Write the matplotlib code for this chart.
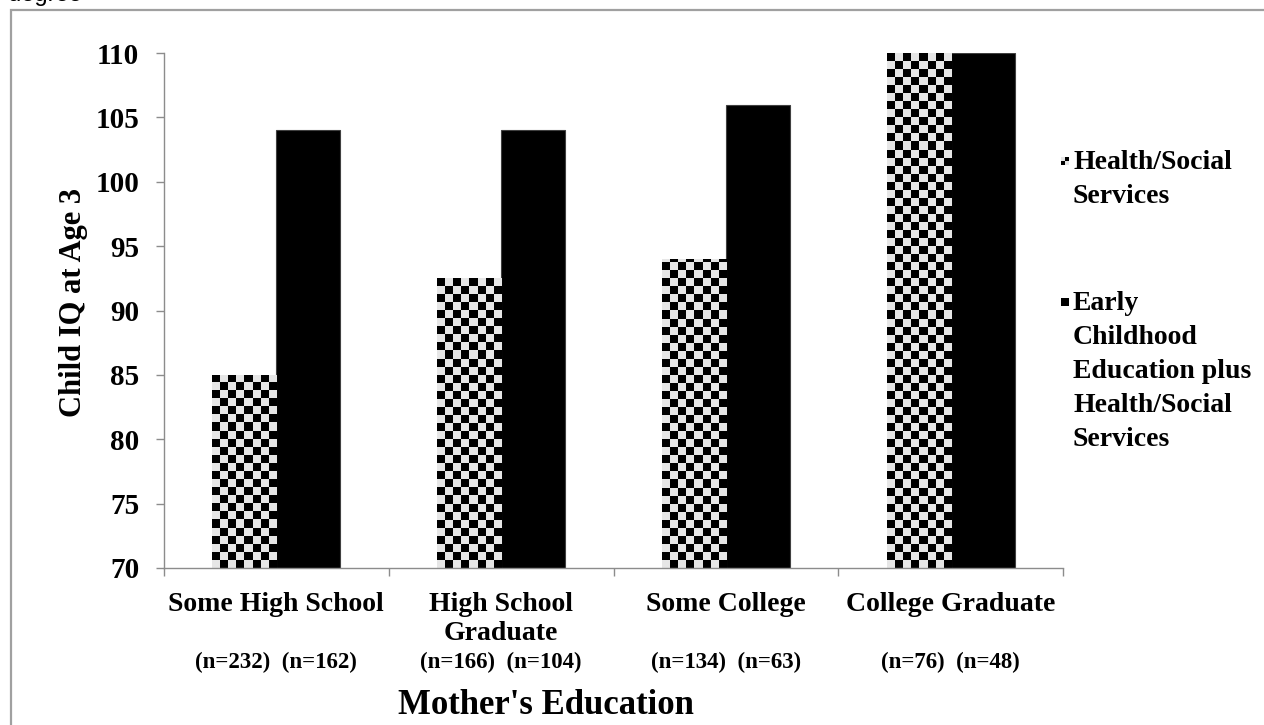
import numpy as np
import matplotlib
matplotlib.use("Agg")
import matplotlib.pyplot as plt
from matplotlib.patches import Rectangle
from matplotlib.transforms import blended_transform_factory

# ---- data ----
categories = ["Some High School", "High School\nGraduate", "Some College", "College Graduate"]
health_social = [85, 92.5, 94, 110]
early_childhood = [104, 104, 106, 110]
n_labels = ["(n=232)  (n=162)", "(n=166)  (n=104)", "(n=134)  (n=63)", "(n=76)  (n=48)"]
series_names = ["Health/Social\nServices",
                "Early\nChildhood\nEducation plus\nHealth/Social\nServices"]
y_ticks = [70, 75, 80, 85, 90, 95, 100, 105, 110]

SERIF = "Liberation Serif"
CHECK_LIGHT = "#e6e6e6"
AXIS_GRAY = "#8c8c8c"

W, H = 1264, 725
fig = plt.figure(figsize=(W / 100, H / 100), dpi=100)
fig.patch.set_facecolor("white")

# outer frame of the chart area
fig.add_artist(Rectangle((11 / W, -0.1), 1.2, (H - 10) / H + 0.1, transform=fig.transFigure,
                         fill=False, edgecolor="#a0a0a0", linewidth=1.6))
fig.text(8 / W, (H - 1.5) / H, "degree", family="Liberation Sans", fontsize=17,
         va="baseline", ha="left", color="black")

ax_l, ax_r, ax_b, ax_t = 164, 1063, 568, 53
ax = fig.add_axes([ax_l / W, (H - ax_b) / H, (ax_r - ax_l) / W, (ax_b - ax_t) / H])

x = np.arange(len(categories))
bw = 0.285
bars_hs = ax.bar(x - bw / 2, np.array(health_social) - 70, bw, bottom=70,
                 color=CHECK_LIGHT, edgecolor="none", zorder=2)
bars_ec = ax.bar(x + bw / 2, np.array(early_childhood) - 70, bw, bottom=70,
                 color="black", edgecolor="#404040", linewidth=0.8, zorder=2)

ax.set_xlim(-0.5, len(categories) - 0.5)
ax.set_ylim(70, 110)

# checkerboard fill for the first series, clipped to each bar
cell = 8
ncols = int(round((ax_r - ax_l) / cell))
nrows = int(round((ax_b - ax_t) / cell))
ii, jj = np.indices((nrows, ncols))
checker = ((ii + jj) % 2).astype(float)
cmap = matplotlib.colors.ListedColormap(["black", CHECK_LIGHT])
for b in bars_hs:
    im = ax.imshow(checker, cmap=cmap, extent=[0, 1, 0, 1], transform=ax.transAxes,
                   interpolation="nearest", aspect="auto", zorder=3)
    im.set_clip_path(b)

for s in ["top", "right"]:
    ax.spines[s].set_visible(False)
for s in ["left", "bottom"]:
    ax.spines[s].set_color(AXIS_GRAY)
    ax.spines[s].set_linewidth(1.0)
    ax.spines[s].set_zorder(4)

ax.set_yticks(y_ticks)
ax.set_yticklabels([str(v) for v in y_ticks], family=SERIF, fontweight="bold", fontsize=21)
ax.tick_params(axis="y", direction="out", length=5.8, width=1, color=AXIS_GRAY, pad=12)

ax.set_xticks(x)
ax.set_xticklabels(categories, family=SERIF, fontweight="bold", fontsize=20, linespacing=1.22)
ax.tick_params(axis="x", which="major", length=0, pad=17)
ax.set_xticks(np.arange(-0.5, len(categories), 1.0), minor=True)
ax.tick_params(axis="x", which="minor", direction="out", length=6, width=1, color=AXIS_GRAY)

ax.set_ylabel("Child IQ at Age 3", family=SERIF, fontweight="bold", fontsize=22)
ax.yaxis.set_label_coords(-0.085, 0.515)

# sample sizes under each group
tr = blended_transform_factory(ax.transData, fig.transFigure)
for xi, lab in zip(x, n_labels):
    ax.text(xi, (H - 662) / H, lab, transform=tr, ha="center", va="center",
            family=SERIF, fontweight="bold", fontsize=16.5)

fig.text(546 / W, (H - 706) / H, "Mother's Education", ha="center", va="center",
         family=SERIF, fontweight="bold", fontsize=25)

# legend
mk = 8
leg_x = 1061
leg_rows = [161, 302]
for k, (row, name) in enumerate(zip(leg_rows, series_names)):
    x0, y0 = leg_x / W, (H - row - mk / 2) / H
    if k == 0:
        h = mk / 2
        for a in range(2):
            for b in range(2):
                fc = "black" if (a + b) % 2 == 0 else CHECK_LIGHT
                fig.add_artist(Rectangle(((leg_x + a * h) / W, (H - row - mk / 2 + b * h) / H),
                                         h / W, h / H, transform=fig.transFigure,
                                         facecolor=fc, edgecolor="none"))
    else:
        fig.add_artist(Rectangle((x0, y0), mk / W, mk / H, transform=fig.transFigure,
                                 facecolor="black", edgecolor="none"))
    fig.text(1073 / W, (H - row + 11) / H, name, ha="left", va="top",
             family=SERIF, fontweight="bold", fontsize=20, linespacing=1.47,
             transform=fig.transFigure)

fig.savefig("out.png", dpi=100)
